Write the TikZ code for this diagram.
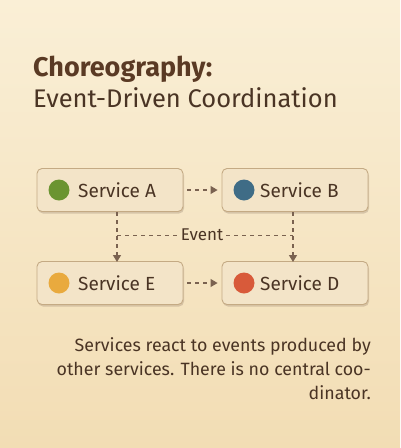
\documentclass[tikz,border=0pt]{standalone}
\usepackage{fontspec}
\setmainfont{Fira Sans}
\usetikzlibrary{shadows,arrows.meta}
\definecolor{bgA}{HTML}{FAEFD6}
\definecolor{bgB}{HTML}{F2DDB4}
\definecolor{ink}{HTML}{4A3424}
\definecolor{title}{HTML}{5A3A24}
\definecolor{boxfill}{HTML}{F3E4C8}
\definecolor{boxline}{HTML}{C4AA84}
\definecolor{arr}{HTML}{7A6250}
\definecolor{cA}{HTML}{6B9431}
\definecolor{cB}{HTML}{3F6C86}
\definecolor{cE}{HTML}{E9AA3E}
\definecolor{cD}{HTML}{D85A3A}
\tikzset{
  svc/.style={draw=boxline, line width=0.9pt, fill=boxfill, rounded corners=5pt,
    minimum width=146pt, minimum height=43pt,
    drop shadow={shadow xshift=1pt, shadow yshift=-2pt, opacity=0.25, fill=arr}},
  dot/.style={circle, minimum size=21pt, inner sep=0pt},
  lbl/.style={font=\fontsize{19}{22}\selectfont, text=ink, anchor=west, inner sep=0pt},
  flow/.style={draw=arr, line width=1.1pt, dash pattern=on 4pt off 4pt, -{Triangle[length=7pt,width=8pt]}},
  evline/.style={draw=arr, line width=1pt, dash pattern=on 4pt off 4pt}
}
\begin{document}
\begin{tikzpicture}[x=1pt,y=-1pt]
\useasboundingbox (0,0) rectangle (400,448);
\shade[top color=bgA, bottom color=bgB] (0,0) rectangle (400,448);
\node[anchor=base west, inner sep=0pt, text=title, font=\fontsize{27}{30}\selectfont\bfseries] (t1) at (33,76) {Choreography:};
\node[anchor=base west, inner sep=0pt, text=ink, font=\fontsize{25.5}{30}\selectfont] (t2) at (33,107) {Event-Driven Coordination};

\node[svc] (A) at (110,190) {};
\node[svc] (B) at (295,190) {};
\node[svc] (E) at (110,283) {};
\node[svc] (D) at (295,283) {};

\node[dot, fill=cA] (dA) at (59,190) {};
\node[dot, fill=cB] (dB) at (244,190) {};
\node[dot, fill=cE] (dE) at (59,283) {};
\node[dot, fill=cD] (dD) at (244,283) {};
\node[lbl] (lA) at (78,190) {Service A};
\node[lbl] (lB) at (260,190) {Service B};
\node[lbl] (lE) at (78,283) {Service E};
\node[lbl] (lD) at (260,283) {Service D};

\coordinate (a1) at (117,212);
\coordinate (a2) at (117,262);
\coordinate (b1) at (293,212);
\coordinate (b2) at (293,262);
\draw[flow] (a1) -- (a2);
\draw[flow] (b1) -- (b2);
\draw[flow] ([xshift=4pt]A.east) -- ([xshift=-4pt]B.west);
\draw[flow] ([xshift=4pt]E.east) -- ([xshift=-4pt]D.west);

\node[text=ink, font=\fontsize{17}{18}\selectfont, inner sep=3pt] (ev) at (202,235) {Event};
\draw[evline] (117,235) -- (ev.west);
\draw[evline] (ev.east) -- (293,235);

\node[anchor=north east, align=right, text=ink, inner sep=0pt,
  font=\fontsize{17.8}{24}\selectfont] (cap) at (371,337)
  {Services react to events produced by\\other services. There is no central coo-\\dinator.};
\end{tikzpicture}
\end{document}
